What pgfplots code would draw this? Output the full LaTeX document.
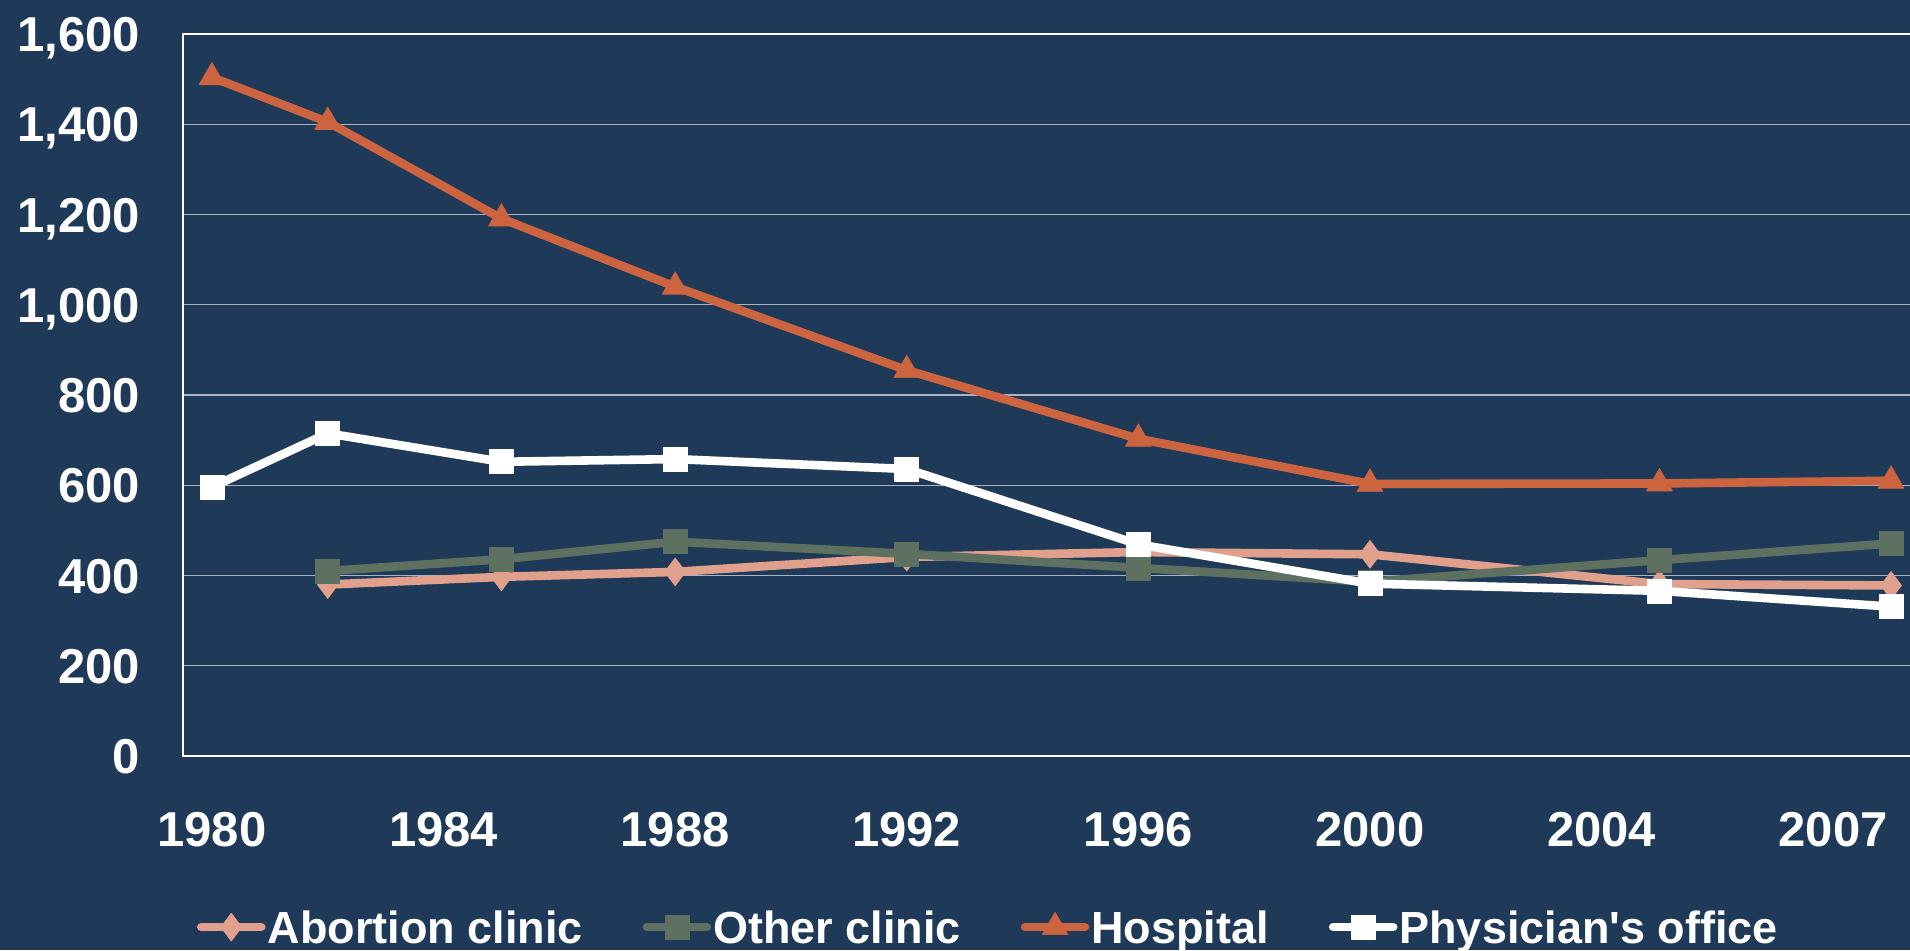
\documentclass[border=0pt]{standalone}
\usepackage{fontspec}
\setmainfont{Liberation Sans}
\usepackage{pgfplots}
\pgfplotsset{compat=1.18}
\definecolor{bg}{HTML}{1F3958}
\definecolor{hosp}{HTML}{CC6440}
\definecolor{abcl}{HTML}{E0A08C}
\definecolor{oth}{HTML}{5E7060}
\definecolor{grd}{HTML}{A8B4C4}
\begin{document}
\begin{tikzpicture}
\path[use as bounding box, fill=bg] (-91.5pt,-97pt) rectangle (863.5pt,378pt);
\begin{axis}[
  at={(0pt,0pt)}, anchor=south west,
  scale only axis, width=868.5pt, height=361pt,
  xmin=1979.5, xmax=2009.5, ymin=0, ymax=1600,
  xtick={1980,1984,...,2008},
  xticklabels={1980,1984,1988,1992,1996,2000,2004,2007},
  ytick={0,200,...,1600},
  axis line style={white, line width=0.6pt},
  major tick length=0pt,
  ymajorgrids, grid style={grd, line width=0.6pt},
  tick label style={white, font=\fontsize{24.5}{29}\selectfont\bfseries},
  yticklabel style={anchor=east, xshift=-18pt, text height=17.6pt, text depth=0pt},
  xticklabel style={anchor=north, yshift=-24pt, text height=17.6pt, text depth=0pt},
  /pgf/number format/.cd, 1000 sep={,}, assume math mode=true, /pgfplots/.cd,
  every axis plot/.append style={line width=4.3pt, line cap=round, line join=round},
  legend columns=4,
  legend style={draw=none, fill=none, text=white, inner sep=0pt, outer sep=0pt,
    font=\fontsize{22.5}{27}\selectfont\bfseries,
    at={(axis description cs:0,-0.237)}, anchor=west, xshift=7pt,
    /tikz/every even column/.append style={column sep=29pt},
    nodes={text height=16.1pt, text depth=0pt, inner xsep=1pt}},
  legend image code/.code={
    \draw[mark repeat=2,mark phase=2] plot coordinates {(0pt,0pt) (15pt,0pt) (30pt,0pt)};
  },
]
\addplot[abcl, mark=diamond*, mark size=7pt, mark options={solid, line width=0.3pt, fill=abcl, draw=abcl}]
  coordinates {(1982,380)(1985,397)(1988,408)(1992,441)(1996,452)(2000,447)(2005,381)(2009,378)};
\addlegendentry{Abortion clinic}
\addplot[oth, mark=square*, mark size=6pt, mark options={solid, line width=0.3pt, fill=oth, draw=oth}]
  coordinates {(1982,410)(1985,436)(1988,475)(1992,448)(1996,417)(2000,386)(2005,434)(2009,471)};
\addlegendentry{Other clinic}
\addplot[hosp, mark=triangle*, mark size=7.5pt, mark options={solid, line width=0.3pt, fill=hosp, draw=hosp}]
  coordinates {(1980,1504)(1982,1405)(1985,1191)(1988,1040)(1992,855)(1996,703)(2000,603)(2005,604)(2009,610)};
\addlegendentry{Hospital}
\addplot[white, mark=square*, mark size=6pt, mark options={solid, line width=0.3pt, fill=white, draw=white}]
  coordinates {(1980,596)(1982,715)(1985,652)(1988,658)(1992,636)(1996,469)(2000,382)(2005,366)(2009,331)};
\addlegendentry{Physician\textquotesingle s office}
\end{axis}
\end{tikzpicture}
\end{document}
